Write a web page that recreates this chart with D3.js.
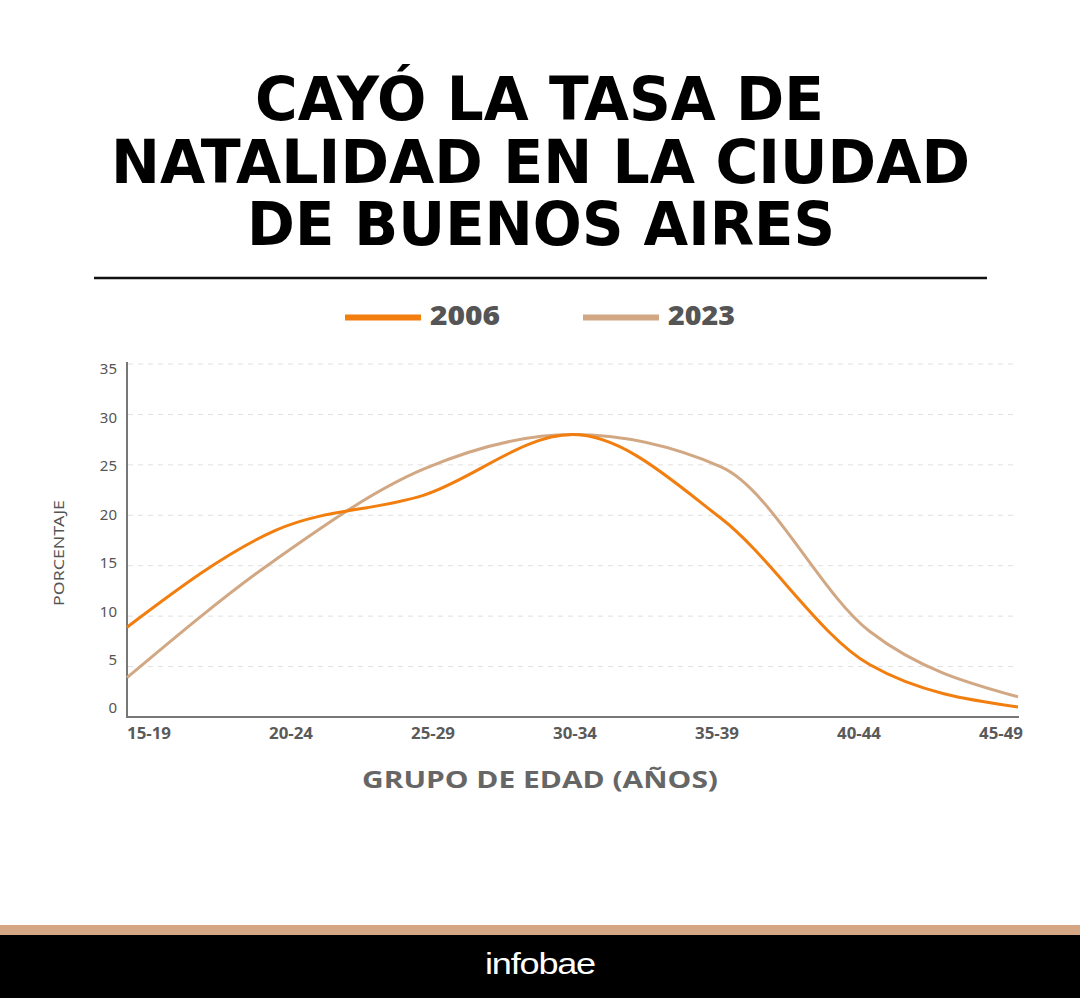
<!DOCTYPE html>
<html>
<head>
<meta charset="utf-8">
<script src="https://cdn.jsdelivr.net/npm/d3@7"></script>
<style>
  html, body { margin: 0; padding: 0; background: #fff; }
  svg { display: block; }
</style>
</head>
<body>
<svg id="chart" width="1080" height="998"></svg>
<script>
const categories = ["15-19", "20-24", "25-29", "30-34", "35-39", "40-44", "45-49"];
const values2006 = [8.9, 18.5, 22.0, 28.0, 19.7, 5.2, 1.0];
const values2023 = [3.9, 15.6, 24.6, 28.0, 24.8, 8.5, 2.0];
const seriesNames = ["2006", "2023"];
const yTicks = [0, 5, 10, 15, 20, 25, 30, 35];
const titleLines = ["CAYÓ LA TASA DE", "NATALIDAD EN LA CIUDAD", "DE BUENOS AIRES"];

const colors = { "2006": "#F17E0E", "2023": "#D2A884" };
const series = [
  { name: seriesNames[0], values: values2006 },
  { name: seriesNames[1], values: values2023 }
];

const svg = d3.select("#chart");
const W = 1080;

// Title
const titleFont = "'DejaVu Sans', sans-serif";
const titleSpec = [
  { y: 120, x0: 255, x1: 824 },
  { y: 183, x0: 111, x1: 970 },
  { y: 245, x0: 247, x1: 835 }
];
titleLines.forEach((t, i) => {
  svg.append("text")
    .attr("x", titleSpec[i].x0)
    .attr("y", titleSpec[i].y)
    .attr("font-family", titleFont)
    .attr("font-weight", "bold")
    .attr("font-size", 61)
    .attr("fill", "#000")
    .attr("textLength", titleSpec[i].x1 - titleSpec[i].x0)
    .attr("lengthAdjust", "spacingAndGlyphs")
    .text(t);
});

// Rule under title
svg.append("line")
  .attr("x1", 94).attr("x2", 987)
  .attr("y1", 278).attr("y2", 278)
  .attr("stroke", "#111").attr("stroke-width", 2.4);

// Legend
const legendSpec = [
  { lx: 345, tx: 430, tw: 70 },
  { lx: 583, tx: 668, tw: 67 }
];
series.forEach((s, i) => {
  svg.append("line")
    .attr("x1", legendSpec[i].lx).attr("x2", legendSpec[i].lx + 76)
    .attr("y1", 317.5).attr("y2", 317.5)
    .attr("stroke", colors[s.name]).attr("stroke-width", 6);
  svg.append("text")
    .attr("x", legendSpec[i].tx).attr("y", 325)
    .attr("font-family", "'Open Sans', sans-serif")
    .attr("font-weight", 800)
    .attr("font-size", 27)
    .attr("fill", "#555")
    .attr("textLength", legendSpec[i].tw)
    .attr("lengthAdjust", "spacingAndGlyphs")
    .text(s.name);
});

// Scales
const x = d3.scalePoint().domain(categories).range([127, 1018]);
const xLabel = d3.scalePoint().domain(categories).range([149, 1001]);
const y = d3.scaleLinear().domain([0, 35]).range([717, 364]);
const yLabel = d3.scaleLinear().domain([0, 35]).range([708, 369]);

// Grid
svg.append("g")
  .selectAll("line")
  .data(yTicks.filter(d => d > 0))
  .join("line")
  .attr("x1", 128).attr("x2", 1018)
  .attr("y1", d => y(d)).attr("y2", d => y(d))
  .attr("stroke", "#e0e0e0")
  .attr("stroke-width", 1)
  .attr("stroke-dasharray", "5,5");

// Y tick labels
svg.append("g")
  .selectAll("text")
  .data(yTicks)
  .join("text")
  .attr("x", 117)
  .attr("y", d => yLabel(d))
  .attr("dy", "0.36em")
  .attr("text-anchor", "end")
  .attr("font-family", "'Noto Sans', sans-serif")
  .attr("font-size", 15)
  .attr("fill", "#555")
  .text(d => d);

// Y axis title
svg.append("text")
  .attr("transform", "translate(64,553) rotate(-90)")
  .attr("text-anchor", "middle")
  .attr("font-family", "'Noto Sans', sans-serif")
  .attr("font-size", 14)
  .attr("fill", "#555")
  .attr("textLength", 106)
  .attr("lengthAdjust", "spacingAndGlyphs")
  .text("PORCENTAJE");

// Axis lines
svg.append("line")
  .attr("x1", 127).attr("x2", 127)
  .attr("y1", y(35) - 2).attr("y2", y(0) + 1)
  .attr("stroke", "#777").attr("stroke-width", 2);
svg.append("line")
  .attr("x1", 126).attr("x2", 1019)
  .attr("y1", y(0)).attr("y2", y(0))
  .attr("stroke", "#777").attr("stroke-width", 2);

// X tick labels
svg.append("g")
  .selectAll("text")
  .data(categories)
  .join("text")
  .attr("x", d => xLabel(d))
  .attr("y", 739)
  .attr("text-anchor", "middle")
  .attr("font-family", "'Open Sans', sans-serif")
  .attr("font-weight", 700)
  .attr("font-size", 16)
  .attr("fill", "#5a5a5a")
  .attr("textLength", 44)
  .attr("lengthAdjust", "spacingAndGlyphs")
  .text(d => d);

// X axis title
svg.append("text")
  .attr("x", 540).attr("y", 788)
  .attr("text-anchor", "middle")
  .attr("font-family", "'Open Sans', sans-serif")
  .attr("font-weight", 700)
  .attr("font-size", 24)
  .attr("fill", "#666")
  .attr("textLength", 356)
  .attr("lengthAdjust", "spacingAndGlyphs")
  .text("GRUPO DE EDAD (AÑOS)");

// Lines
const line = d3.line()
  .x((d, i) => x(categories[i]))
  .y(d => y(d))
  .curve(d3.curveMonotoneX);

svg.append("g")
  .selectAll("path")
  .data(series.slice().reverse())
  .join("path")
  .attr("d", d => line(d.values))
  .attr("fill", "none")
  .attr("stroke", d => colors[d.name])
  .attr("stroke-width", 3);

// Footer
svg.append("rect")
  .attr("x", 0).attr("y", 925).attr("width", W).attr("height", 11)
  .attr("fill", "#D4A683");
svg.append("rect")
  .attr("x", 0).attr("y", 935).attr("width", W).attr("height", 63)
  .attr("fill", "#000");
svg.append("text")
  .attr("x", 540).attr("y", 974)
  .attr("text-anchor", "middle")
  .attr("font-family", "'Liberation Sans', Arial, sans-serif")
  .attr("font-size", 30)
  .attr("fill", "#fff")
  .attr("textLength", 110)
  .attr("lengthAdjust", "spacingAndGlyphs")
  .attr("letter-spacing", -1)
  .text("infobae");
</script>
</body>
</html>
